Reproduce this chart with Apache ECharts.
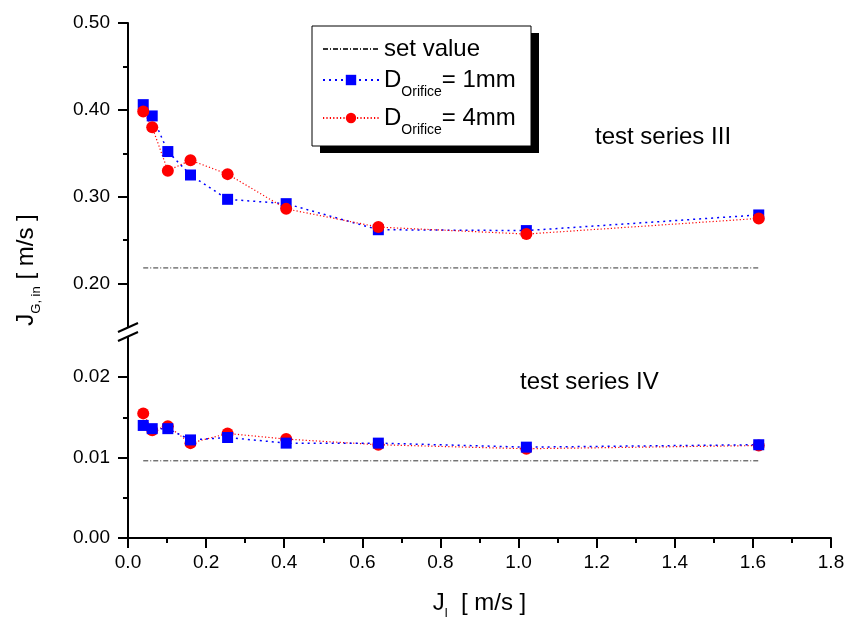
<!DOCTYPE html>
<html>
<head>
<meta charset="utf-8">
<script src="https://cdn.jsdelivr.net/npm/echarts@6/dist/echarts.min.js"></script>
<style>
  html, body { margin: 0; padding: 0; background: #fff; }
  #chart { width: 848px; height: 617px; }
</style>
</head>
<body>
<div id="chart"></div>
<script>
// ---- data ----
const xValues = [0.039, 0.062, 0.102, 0.160, 0.255, 0.405, 0.641, 1.020, 1.615];
// test series III (upper panel)
const upper1mm = [0.406, 0.393, 0.352, 0.325, 0.297, 0.292, 0.262, 0.261, 0.279];
const upper4mm = [0.398, 0.380, 0.330, 0.342, 0.326, 0.286, 0.265, 0.257, 0.275];
const upperSetValue = 0.218;
// test series IV (lower panel)
const lower1mm = [0.0140, 0.0136, 0.0136, 0.0122, 0.0125, 0.0118, 0.0118, 0.0113, 0.0116];
const lower4mm = [0.0155, 0.0134, 0.0139, 0.0118, 0.0130, 0.0123, 0.0116, 0.0111, 0.0115];
const lowerSetValue = 0.0096;
// axis ticks
const xTickLabels = ['0.0', '0.2', '0.4', '0.6', '0.8', '1.0', '1.2', '1.4', '1.6', '1.8'];
const upperMajorTicks = [0.20, 0.30, 0.40, 0.50];
const upperMinorTicks = [0.25, 0.35, 0.45];
const lowerMajorTicks = [0.00, 0.01, 0.02];
const lowerMinorTicks = [0.005, 0.015];
const seriesNames = ['set value', 'D_Orifice = 1mm', 'D_Orifice = 4mm'];

const FONT = 'Liberation Sans, Arial, Helvetica, sans-serif';
const pairs = (ys) => xValues.map((x, i) => [x, ys[i]]);
const setLine = (v) => [[xValues[0], v], [xValues[xValues.length - 1], v]];

const chart = echarts.init(document.getElementById('chart'), null, { renderer: 'canvas' });

const axisLineStyle = { color: '#000', width: 2 };
const labelStyle = { color: '#000', fontFamily: FONT, fontSize: 19 };

function yAxisMain(grid, min, max, ticks) {
  return {
    type: 'value', gridIndex: grid, min: min, max: max, position: 'left',
    axisLine: { show: true, onZero: false, lineStyle: axisLineStyle },
    axisTick: { show: true, length: 10, lineStyle: axisLineStyle, customValues: ticks },
    axisLabel: Object.assign({ margin: 18, customValues: ticks, formatter: (v) => v.toFixed(2) }, labelStyle),
    splitLine: { show: false }
  };
}
function yAxisMinor(grid, min, max, ticks) {
  return {
    type: 'value', gridIndex: grid, min: min, max: max, position: 'left', offset: 0,
    axisLine: { show: false },
    axisTick: { show: true, length: 5, lineStyle: axisLineStyle, customValues: ticks },
    axisLabel: { show: false },
    splitLine: { show: false }
  };
}

const setStyle = { color: '#333', width: 1, type: [5, 2, 1, 2] };
const blueStyle = { color: '#0000ff', width: 1.5, type: [2, 4] };
const redStyle = { color: '#ff0000', width: 1.2, type: [1.2, 2.2] };

function setSeries(xi, yi, v) {
  return { name: seriesNames[0], type: 'line', xAxisIndex: xi, yAxisIndex: yi, data: setLine(v),
    symbol: 'none', lineStyle: setStyle, itemStyle: { color: '#333' }, silent: true };
}
function blueSeries(xi, yi, d) {
  return { name: seriesNames[1], type: 'line', xAxisIndex: xi, yAxisIndex: yi, data: pairs(d),
    symbol: 'rect', symbolSize: 11, lineStyle: blueStyle, itemStyle: { color: '#0000ff' }, silent: true };
}
function redSeries(xi, yi, d) {
  return { name: seriesNames[2], type: 'line', xAxisIndex: xi, yAxisIndex: yi, data: pairs(d),
    symbol: 'circle', symbolSize: 12, lineStyle: redStyle, itemStyle: { color: '#ff0000' }, silent: true };
}

const legendRich = {
  m: { fontSize: 24, lineHeight: 26, fontFamily: FONT, color: '#000' },
  s: { fontSize: 14, lineHeight: 14, fontFamily: FONT, color: '#000', padding: [24, 0, 0, 0] }
};

const option = {
  animation: false,
  backgroundColor: '#fff',
  grid: [
    { left: 128, right: 17, top: 23, height: 304 },
    { left: 128, right: 17, top: 337, height: 201 }
  ],
  xAxis: [
    { type: 'value', gridIndex: 0, min: 0, max: 1.8, show: false },
    { type: 'value', gridIndex: 1, min: 0, max: 1.8, interval: 0.2,
      axisLine: { show: true, onZero: false, lineStyle: axisLineStyle },
      axisTick: { show: true, length: 10, lineStyle: axisLineStyle },
      minorTick: { show: true, splitNumber: 2, length: 5, lineStyle: axisLineStyle },
      axisLabel: Object.assign({ margin: 15, formatter: (v) => xTickLabels[Math.round(v / 0.2)] }, labelStyle),
      splitLine: { show: false }, minorSplitLine: { show: false }
    }
  ],
  yAxis: [
    yAxisMain(0, 0.15, 0.50, upperMajorTicks),
    yAxisMinor(0, 0.15, 0.50, upperMinorTicks),
    yAxisMain(1, 0, 0.025, lowerMajorTicks),
    yAxisMinor(1, 0, 0.025, lowerMinorTicks)
  ],
  legend: {
    data: [
      { name: seriesNames[0], itemStyle: { opacity: 0 } },
      seriesNames[1],
      seriesNames[2]
    ],
    orient: 'vertical',
    left: 322, top: 37,
    padding: 0,
    itemGap: 0,
    itemWidth: 56, itemHeight: 13,
    selectedMode: false,
    z: 20,
    formatter: function (name) {
      if (name === seriesNames[0]) return '{m|set value}';
      if (name === seriesNames[1]) return '{m|D}{s|Orifice}{m|= 1mm}';
      return '{m|D}{s|Orifice}{m|= 4mm}';
    },
    textStyle: { rich: legendRich }
  },
  graphic: [
    { type: 'rect', z: 10, shape: { x: 320, y: 33, width: 219, height: 120 }, style: { fill: '#000' }, silent: true },
    { type: 'rect', z: 11, shape: { x: 312, y: 26, width: 219, height: 120 }, style: { fill: '#fff', stroke: '#000', lineWidth: 1 }, silent: true },
    // axis break marks
    { type: 'line', z: 12, shape: { x1: 118, y1: 332, x2: 138, y2: 323 }, style: { stroke: '#000', lineWidth: 2 }, silent: true },
    { type: 'line', z: 12, shape: { x1: 118, y1: 341, x2: 138, y2: 332 }, style: { stroke: '#000', lineWidth: 2 }, silent: true },
    // annotations
    { type: 'text', z: 12, left: 595, top: 125, style: { text: 'test series III', fontSize: 24, fontFamily: FONT, fill: '#000' }, silent: true },
    { type: 'text', z: 12, left: 520, top: 370, style: { text: 'test series IV', fontSize: 24, fontFamily: FONT, fill: '#000' }, silent: true },
    // axis titles
    { type: 'text', z: 12, x: 479.5, y: 603, silent: true,
      style: { text: '{m|J}{s|l}{m|  [ m/s ]}', align: 'center', verticalAlign: 'middle',
        rich: { m: { fontSize: 24, lineHeight: 26, fontFamily: FONT, fill: '#000' },
                s: { fontSize: 13, lineHeight: 13, fontFamily: FONT, fill: '#000', padding: [20, 0, 0, 0] } } } },
    { type: 'text', z: 12, x: 26.5, y: 270, rotation: Math.PI / 2, silent: true,
      style: { text: '{m|J}{s|G, in}{m| [ m/s ]}', align: 'center', verticalAlign: 'middle',
        rich: { m: { fontSize: 24, lineHeight: 26, fontFamily: FONT, fill: '#000' },
                s: { fontSize: 13, lineHeight: 13, fontFamily: FONT, fill: '#000', padding: [20, 0, 0, 0] } } } }
  ],
  series: [
    setSeries(0, 0, upperSetValue),
    blueSeries(0, 0, upper1mm),
    redSeries(0, 0, upper4mm),
    setSeries(1, 2, lowerSetValue),
    redSeries(1, 2, lower4mm),
    blueSeries(1, 2, lower1mm)
  ]
};
chart.setOption(option);
</script>
</body>
</html>
